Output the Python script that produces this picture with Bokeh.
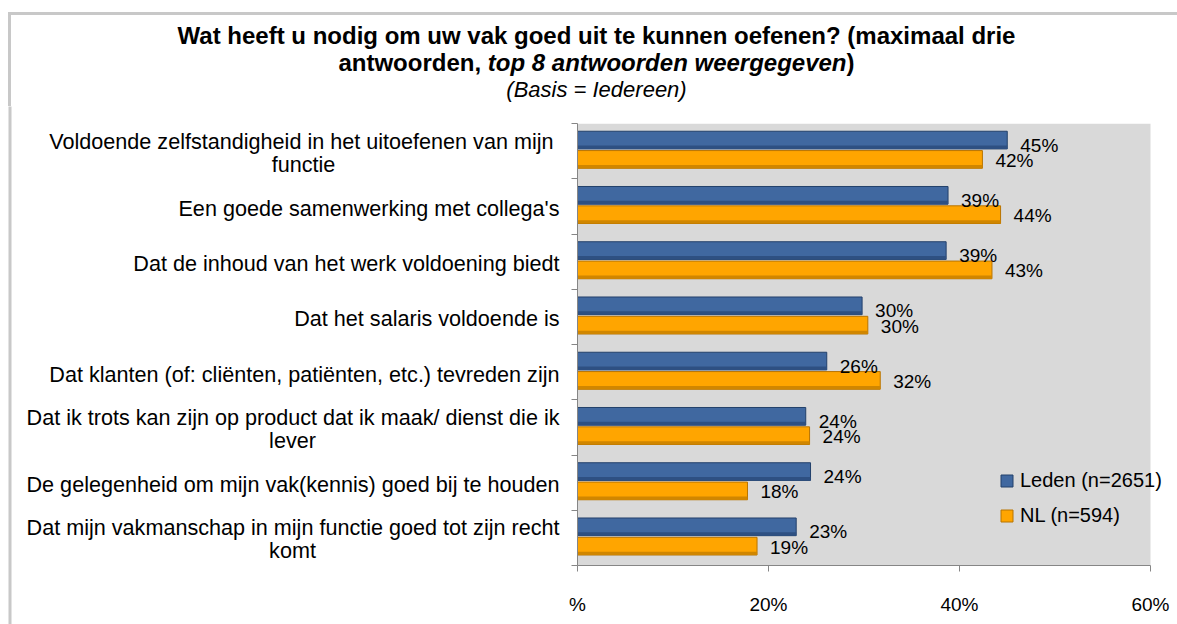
from bokeh.plotting import figure
from bokeh.models import Range1d, FixedTicker, Legend, LegendItem, ColumnDataSource, Div
from bokeh.layouts import column, row
from bokeh.embed import file_html
from bokeh.resources import INLINE
from bokeh.core.properties import value

# ---------------- data ----------------
categories = [
    "Voldoende  zelfstandigheid in het uitoefenen van mijn\nfunctie",
    "Een goede samenwerking met collega's",
    "Dat de inhoud van het werk voldoening biedt",
    "Dat het salaris voldoende is",
    "Dat klanten (of: cliënten, patiënten, etc.) tevreden zijn",
    "Dat ik trots kan zijn op product dat ik maak/ dienst die ik\nlever",
    "De gelegenheid om mijn vak(kennis) goed bij te houden",
    "Dat mijn vakmanschap in mijn functie goed tot zijn recht\nkomt",
]
leden = [45.0, 38.8, 38.6, 29.8, 26.1, 23.9, 24.4, 22.9]
nl = [42.4, 44.3, 43.4, 30.4, 31.7, 24.3, 17.8, 18.8]
leden_labels = ["45%", "39%", "39%", "30%", "26%", "24%", "24%", "23%"]
nl_labels = ["42%", "44%", "43%", "30%", "32%", "24%", "18%", "19%"]
series_names = ["Leden (n=2651)", "NL (n=594)"]
x_ticks = [0, 20, 40, 60]
x_tick_labels = ["%", "20%", "40%", "60%"]

title_line1 = "Wat heeft u nodig om uw vak goed uit te kunnen oefenen? (maximaal drie"
title_line2a = "antwoorden, "
title_line2b = "top 8 antwoorden weergegeven"
title_line2c = ")"
subtitle = "(Basis = Iedereen)"

# ---------------- layout / style constants ----------------
FONT = "Liberation Sans"
PAGE_W = 1177
DIV_H = 106
ROW_H = 518
MAIN_BL = 12
LEFT_W = 577 - MAIN_BL
MAIN_W = PAGE_W - LEFT_W
BT = 123 - DIV_H
BB = DIV_H + ROW_H - 565
FRAME_H = ROW_H - BT - BB          # 442 px
PX_PER_UNIT = FRAME_H / 8.0
FRAME_W = MAIN_W - MAIN_BL          # 600 px
X_MAX = x_ticks[-1] * FRAME_W / 573.0
BORDER = "#C8C8C8"
BLUE, BLUE_EDGE, BLUE_SHADE = "#4068A0", "#23416B", "#2E5082"
ORANGE, ORANGE_EDGE, ORANGE_SHADE = "#FFA500", "#B87400", "#D08600"
BAR_H = 0.32
SHADE_H = 0.06
OFF_BLUE, OFF_NL = -0.2, 0.15
WRAP_CENTERS = [303, 292, 292]      # x centre of the second line of wrapped labels
LABEL_RIGHT = 559

n = len(categories)
centers = [i + 0.5 for i in range(n)]

# ---------------- title block ----------------
html = (
    f'<div style="padding:12px 0 0 8px; width:{PAGE_W - 8}px; height:{DIV_H - 12}px; box-sizing:content-box;">'
    f'<div style="box-sizing:border-box; width:{PAGE_W - 8}px; height:{DIV_H - 12}px; '
    f'border-left:3px solid {BORDER}; border-top:3px solid {BORDER}; '
    f'font-family:\'{FONT}\', Arial, sans-serif; color:black; text-align:center; padding-left:5px;">'
    f'<div style="padding-top:7px; font-weight:bold; font-size:24px; line-height:27px;">'
    f'{title_line1}<br>{title_line2a}<i>{title_line2b}</i>{title_line2c}</div>'
    f'<div style="font-style:italic; font-size:22px; line-height:24px; margin-top:2px;">{subtitle}</div>'
    f'</div></div>'
)
title_div = Div(text=html, width=PAGE_W, height=DIV_H, margin=0)

# ---------------- left figure: category labels ----------------
lf = figure(width=LEFT_W, height=ROW_H, output_backend="svg", toolbar_location=None,
            x_range=Range1d(0, LEFT_W),
            x_axis_location=None, y_axis_location=None, margin=0)
if "frame_align" in lf.properties():
    lf.frame_align = False
    lf.min_border_left = lf.min_border_right = lf.min_border_top = lf.min_border_bottom = 0
    y_top = -BT / PX_PER_UNIT
    y_bot = n + BB / PX_PER_UNIT
else:
    lf.min_border_left = lf.min_border_right = 0
    lf.min_border_top = BT
    lf.min_border_bottom = BB
    y_top, y_bot = 0, n
lf.y_range = Range1d(y_bot, y_top)
lf.outline_line_color = None
lf.xgrid.visible = False
lf.ygrid.visible = False
lf.background_fill_color = "white"
lf.border_fill_color = "white"

# chart border (left side)
lf.segment(x0=[9.5], y0=[y_top - 0.1], x1=[9.5], y1=[y_bot], line_color=BORDER, line_width=3)

single = dict(x=[], y=[], t=[])
first = dict(x=[], y=[], t=[])
second = dict(x=[], y=[], t=[])
wi = 0
for c, lab in zip(centers, categories):
    parts = lab.split("\n")
    if len(parts) == 1:
        single["x"].append(LABEL_RIGHT); single["y"].append(c); single["t"].append(parts[0])
    else:
        first["x"].append(LABEL_RIGHT); first["y"].append(c); first["t"].append(parts[0])
        second["x"].append(WRAP_CENTERS[wi]); second["y"].append(c); second["t"].append(parts[1])
        wi += 1

txt_kw = dict(text_font=value(FONT), text_font_size="21.6px", text_color="black",
              text_baseline="middle")
lf.text(x="x", y="y", text="t", source=ColumnDataSource(single), text_align="right",
        y_offset=2, **txt_kw)
lf.text(x="x", y="y", text="t", source=ColumnDataSource(first), text_align="right",
        y_offset=-10, **txt_kw)
lf.text(x="x", y="y", text="t", source=ColumnDataSource(second), text_align="center",
        y_offset=13, **txt_kw)

# ---------------- main figure ----------------
src = ColumnDataSource(dict(
    y_blue=[c + OFF_BLUE for c in centers],
    y_nl=[c + OFF_NL for c in centers],
    y_blue_shade=[c + OFF_BLUE + BAR_H / 2 - SHADE_H / 2 for c in centers],
    y_nl_shade=[c + OFF_NL + BAR_H / 2 - SHADE_H / 2 for c in centers],
    leden=leden, nl=nl,
    leden_lab=leden_labels, nl_lab=nl_labels,
))

p = figure(width=MAIN_W, height=ROW_H, output_backend="svg", toolbar_location=None,
           x_range=Range1d(0, X_MAX), y_range=Range1d(n, 0),
           min_border_left=MAIN_BL, min_border_top=BT, min_border_right=0,
           min_border_bottom=BB, margin=0)
p.background_fill_color = "white"
p.border_fill_color = "white"
p.outline_line_color = None
p.xgrid.visible = False
p.ygrid.visible = False

# plot area background
p.quad(left=[x_ticks[0]], right=[x_ticks[-1]], top=[0], bottom=[n],
       fill_color="#D9D9D9", line_color=None)

r1 = p.hbar(y="y_blue", left=0, right="leden", height=BAR_H, source=src,
            fill_color=BLUE, line_color=BLUE_EDGE, line_width=1)
p.hbar(y="y_blue_shade", left=0, right="leden", height=SHADE_H, source=src,
       fill_color=BLUE_SHADE, line_color=None)
r2 = p.hbar(y="y_nl", left=0, right="nl", height=BAR_H, source=src,
            fill_color=ORANGE, line_color=ORANGE_EDGE, line_width=1)
p.hbar(y="y_nl_shade", left=0, right="nl", height=SHADE_H, source=src,
       fill_color=ORANGE_SHADE, line_color=None)

p.text(x="leden", y="y_blue", text="leden_lab", source=src, x_offset=13, y_offset=5,
       text_font=value(FONT), text_font_size="19px", text_baseline="middle",
       text_align="left", text_color="black")
p.text(x="nl", y="y_nl", text="nl_lab", source=src, x_offset=13, y_offset=1,
       text_font=value(FONT), text_font_size="19px", text_baseline="middle",
       text_align="left", text_color="black")

# x axis
xa = p.xaxis[0]
xa.ticker = FixedTicker(ticks=x_ticks)
xa.bounds = (x_ticks[0], x_ticks[-1])
xa.major_label_overrides = {t: l for t, l in zip(x_ticks, x_tick_labels)}
xa.axis_line_color = "#868686"
xa.major_tick_line_color = "#868686"
xa.major_tick_out = 6
xa.major_tick_in = 0
xa.minor_tick_line_color = None
xa.major_label_standoff = 22
xa.major_label_text_font = FONT
xa.major_label_text_font_size = "19px"
xa.major_label_text_color = "black"

# y axis (ticks at category boundaries, labels drawn in left figure)
ya = p.yaxis[0]
ya.ticker = FixedTicker(ticks=[], minor_ticks=list(range(n + 1)))
ya.axis_line_color = "#868686"
ya.major_tick_line_color = None
ya.major_tick_out = 0
ya.major_tick_in = 0
ya.major_label_standoff = 0
ya.minor_tick_line_color = "#868686"
ya.minor_tick_out = 6
ya.minor_tick_in = 0

legend = Legend(items=[LegendItem(label=series_names[0], renderers=[r1]),
                       LegendItem(label=series_names[1], renderers=[r2])],
                location=(422, 38), padding=0, margin=0, spacing=12,
                glyph_width=15, glyph_height=15, label_standoff=6,
                background_fill_alpha=0, border_line_color=None,
                label_text_font=FONT, label_text_font_size="20px",
                label_text_color="black")
p.add_layout(legend)

layout = column(title_div, row(lf, p, spacing=0, margin=0), spacing=0, margin=0)

open("out.html", "w").write(file_html(layout, INLINE))
